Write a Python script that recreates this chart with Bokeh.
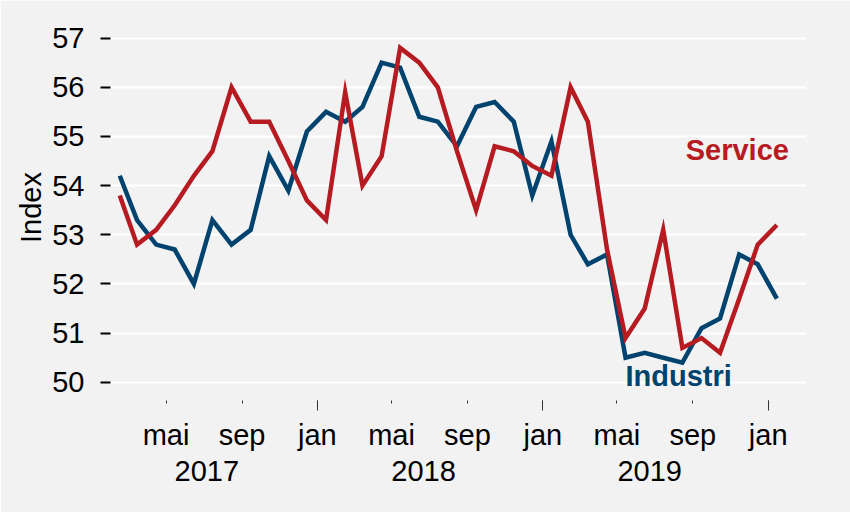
import pandas as pd
from bokeh.plotting import figure
from bokeh.models import LinearAxis, FixedTicker, Range1d
from bokeh.core.properties import value
from bokeh.embed import file_html
from bokeh.resources import INLINE

# ---- data (monthly PMI) ----
months = ["2017-02", "2017-03", "2017-04", "2017-05", "2017-06", "2017-07",
          "2017-08", "2017-09", "2017-10", "2017-11", "2017-12", "2018-01",
          "2018-02", "2018-03", "2018-04", "2018-05", "2018-06", "2018-07",
          "2018-08", "2018-09", "2018-10", "2018-11", "2018-12", "2019-01",
          "2019-02", "2019-03", "2019-04", "2019-05", "2019-06", "2019-07",
          "2019-08", "2019-09", "2019-10", "2019-11", "2019-12", "2020-01"]
industri = [54.2, 53.3, 52.8, 52.7, 52.0, 53.3, 52.8, 53.1, 54.6, 53.9, 55.1, 55.5,
            55.3, 55.6, 56.5, 56.4, 55.4, 55.3, 54.8, 55.6, 55.7, 55.3, 53.8, 54.9,
            53.0, 52.4, 52.6, 50.5, 50.6, 50.5, 50.4, 51.1, 51.3, 52.6, 52.4, 51.7]
service = [53.8, 52.8, 53.1, 53.6, 54.2, 54.7, 56.0, 55.3, 55.3, 54.5, 53.7, 53.3,
           55.9, 54.0, 54.6, 56.8, 56.5, 56.0, 54.7, 53.5, 54.8, 54.7, 54.4, 54.2,
           56.0, 55.3, 52.7, 50.9, 51.5, 53.1, 50.7, 50.9, 50.6, 51.7, 52.8, 53.2]

month_ticks = ["2017-05-01", "2017-09-01", "2018-01-01", "2018-05-01", "2018-09-01",
               "2019-01-01", "2019-05-01", "2019-09-01", "2020-01-01"]
month_labels = ["mai", "sep", "jan", "mai", "sep", "jan", "mai", "sep", "jan"]
year_ticks = ["2017-07-06", "2018-06-22", "2019-06-23"]
year_labels = ["2017", "2018", "2019"]
y_ticks = [50, 51, 52, 53, 54, 55, 56, 57]

label_names = ["Industri", "Service"]
label_dates = ["2019-08-09", "2019-11-12"]
label_values = [50.13, 54.72]

BLUE = "#00436E"
RED = "#B51B21"
BG = "#F2F2F2"
FONT = "Liberation Sans"
FS = "29px"


def ms(s):
    return pd.Timestamp(s).value / 1e6


x = [ms(m + "-15") for m in months]

p = figure(width=850, height=512,
           x_range=Range1d(ms("2017-01-31"), ms("2020-03-03")),
           y_range=Range1d(49.63, 57.48),
           x_axis_type=None,
           output_backend="svg", toolbar_location=None,
           min_border_left=110, min_border_right=44,
           min_border_top=14, min_border_bottom=112,
           background_fill_color=BG, border_fill_color=BG,
           outline_line_color=None)

# y axis
ya = p.yaxis[0]
ya.ticker = FixedTicker(ticks=y_ticks)
ya.axis_line_color = None
ya.major_tick_in = 0
ya.major_tick_out = 10
ya.major_tick_line_width = 2
ya.major_tick_line_color = "black"
ya.minor_tick_line_color = None
ya.major_label_text_font = FONT
ya.major_label_text_font_size = FS
ya.major_label_text_color = "black"
ya.major_label_standoff = 16
ya.axis_label = "Index"
ya.axis_label_text_font = FONT
ya.axis_label_text_font_size = FS
ya.axis_label_text_font_style = "normal"
ya.axis_label_text_color = "black"
ya.axis_label_standoff = 2

p.ygrid[0].grid_line_color = "white"
p.ygrid[0].grid_line_width = 2

# month axis
mt = [ms(t) for t in month_ticks]
jan = [ms(t) for t, l in zip(month_ticks, month_labels) if l == "jan"]
month_axis = LinearAxis(ticker=FixedTicker(ticks=mt, minor_ticks=jan),
                        major_label_overrides={t: l for t, l in zip(mt, month_labels)})
month_axis.axis_line_color = None
month_axis.major_tick_in = 0
month_axis.major_tick_out = 3
month_axis.minor_tick_in = 0
month_axis.minor_tick_out = 10
month_axis.major_tick_line_color = "#333333"
month_axis.minor_tick_line_color = "#333333"
month_axis.major_label_text_font = FONT
month_axis.major_label_text_font_size = FS
month_axis.major_label_text_color = "black"
month_axis.major_label_standoff = 8
p.add_layout(month_axis, "below")

# year axis
yt = [ms(t) for t in year_ticks]
year_axis = LinearAxis(ticker=FixedTicker(ticks=yt),
                       major_label_overrides={t: l for t, l in zip(yt, year_labels)})
year_axis.axis_line_color = None
year_axis.major_tick_line_color = None
year_axis.minor_tick_line_color = None
year_axis.major_tick_out = 0
year_axis.major_tick_in = 0
year_axis.major_label_text_font = FONT
year_axis.major_label_text_font_size = FS
year_axis.major_label_text_color = "black"
year_axis.major_label_standoff = 7
p.add_layout(year_axis, "below")

# lines
p.line(x, industri, line_color=BLUE, line_width=4.5, line_join="miter")
p.line(x, service, line_color=RED, line_width=4.5, line_join="miter")

# series labels
p.text(x=[ms(d) for d in label_dates], y=label_values, text=label_names,
       text_color=[BLUE, RED], text_font=value(FONT), text_font_style="bold",
       text_font_size=FS, text_align="center", text_baseline="alphabetic")

open("out.html", "w").write(file_html(p, INLINE))
